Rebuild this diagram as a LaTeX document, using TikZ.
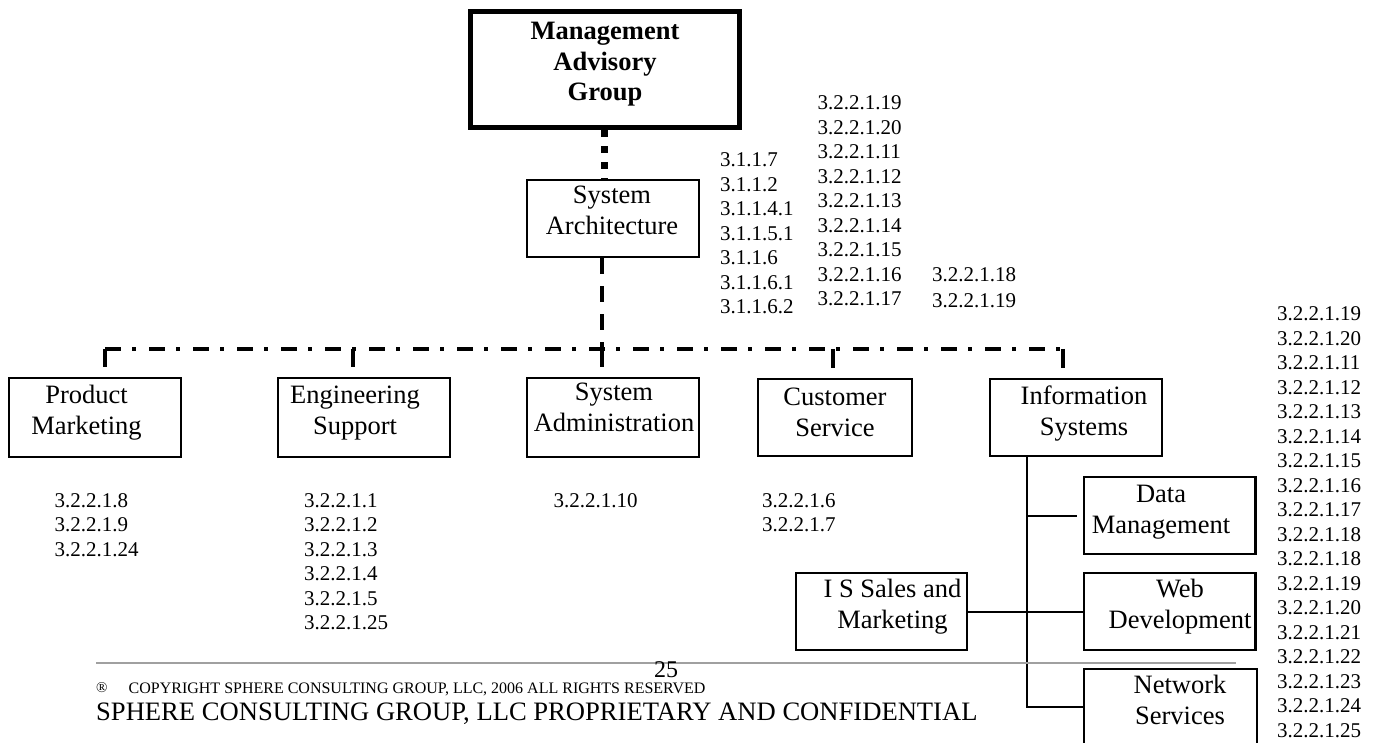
\documentclass[tikz,border=0pt]{standalone}
\usepackage{fontspec}
\setmainfont{Liberation Serif}
\definecolor{rulegray}{RGB}{160,160,160}
\newcommand{\stk}[2]{\begin{tabular}[t]{@{}#1@{}}#2\end{tabular}}
\begin{document}
\begin{tikzpicture}[x=1pt,y=-1pt,
  box/.style={draw, line width=2.2pt, inner sep=0pt, rectangle},
  lbl/.style={font=\fontsize{26.5}{31}\selectfont, inner sep=0pt, anchor=base},
  num/.style={font=\fontsize{21}{24.5}\selectfont, inner sep=0pt, anchor=base west},
  link/.style={line width=2pt},
  tick/.style={line width=4pt, shorten >=10pt},
  dashv/.style={line width=4pt, dash pattern=on 16pt off 12pt},
  dashdotbus/.style={line width=4pt, dash pattern=on 16pt off 11pt on 4pt off 13pt},
  dotv/.style={line width=7pt, dash pattern=on 7pt off 9pt},
]
\useasboundingbox (0,0) rectangle (1379,743);
\clip (0,0) rectangle (1379,743);

% boxes
\node[box, line width=5pt, minimum width=269pt, minimum height=116pt] (mag) at (604.5,70) {};
\node[box, minimum width=171.5pt, minimum height=77pt] (sa) at (613,218.5) {};
\node[box, minimum width=172pt, minimum height=79pt] (pm) at (95,417.5) {};
\node[box, minimum width=172pt, minimum height=79pt] (es) at (364,417.5) {};
\node[box, minimum width=172pt, minimum height=79pt] (sadm) at (613,417.5) {};
\node[box, minimum width=154pt, minimum height=77pt] (cs) at (835,417.5) {};
\node[box, minimum width=172pt, minimum height=77pt] (is) at (1076,417.5) {};
\node[box, minimum width=171.5pt, minimum height=77pt] (dm) at (1169.75,515.5) {};
\node[box, minimum width=171.5pt, minimum height=77pt] (wd) at (1169.75,611.5) {};
\node[box, minimum width=173pt, minimum height=80pt] (ns) at (1170.5,709) {};
\node[box, minimum width=171pt, minimum height=77pt] (iss) at (881.5,611.5) {};

% box texts
\node[lbl, font=\bfseries\fontsize{26.5}{30.5}\selectfont] (magt) at (605,40) {\stk{c}{Management\\Advisory\\Group}};
\node[lbl] (sat) at (612,204) {\stk{c}{System\\Architecture}};
\node[lbl] (pmt) at (86.5,403) {\stk{c}{Product\\Marketing}};
\node[lbl] (est) at (355,403) {\stk{c}{Engineering\\Support}};
\node[lbl] (sadmt) at (614,400) {\stk{c}{System\\Administration}};
\node[lbl] (cst) at (835,405) {\stk{c}{Customer\\Service}};
\node[lbl] (ist) at (1084,404) {\stk{c}{Information\\Systems}};
\node[lbl] (dmt) at (1161,502) {\stk{c}{Data\\Management}};
\node[lbl] (wdt) at (1180,597) {\stk{c}{Web\\Development}};
\node[lbl] (nst) at (1180,693) {\stk{c}{Network\\Services}};
\node[lbl] (isst) at (892.5,597) {\stk{c}{I S Sales and\\Marketing}};

% number columns
\node[num] (c1) at (720,167) {\stk{l}{3.1.1.7\\3.1.1.2\\3.1.1.4.1\\3.1.1.5.1\\3.1.1.6\\3.1.1.6.1\\3.1.1.6.2}};
\node[num] (c2) at (817.5,110) {\stk{l}{3.2.2.1.19\\3.2.2.1.20\\3.2.2.1.11\\3.2.2.1.12\\3.2.2.1.13\\3.2.2.1.14\\3.2.2.1.15\\3.2.2.1.16\\3.2.2.1.17}};
\node[num, font=\fontsize{21}{25.5}\selectfont] (c3) at (932,282) {\stk{l}{3.2.2.1.18\\3.2.2.1.19}};
\node[num] (c4) at (1277,321) {\stk{l}{3.2.2.1.19\\3.2.2.1.20\\3.2.2.1.11\\3.2.2.1.12\\3.2.2.1.13\\3.2.2.1.14\\3.2.2.1.15\\3.2.2.1.16\\3.2.2.1.17\\3.2.2.1.18\\3.2.2.1.18\\3.2.2.1.19\\3.2.2.1.20\\3.2.2.1.21\\3.2.2.1.22\\3.2.2.1.23\\3.2.2.1.24\\3.2.2.1.25}};
\node[num] (npm) at (54.5,507) {\stk{l}{3.2.2.1.8\\3.2.2.1.9\\3.2.2.1.24}};
\node[num] (nes) at (304,507) {\stk{l}{3.2.2.1.1\\3.2.2.1.2\\3.2.2.1.3\\3.2.2.1.4\\3.2.2.1.5\\3.2.2.1.25}};
\node[num] (nsadm) at (553.5,507) {3.2.2.1.10};
\node[num] (ncs) at (762,507) {\stk{l}{3.2.2.1.6\\3.2.2.1.7}};

% connectors
\draw[dotv] (mag.south) -- (mag.south |- sa.north);
\coordinate (bPM) at (105,349);
\coordinate (bES) at (353,349);
\coordinate (bSA) at (602,349);
\coordinate (bCS) at (833,349);
\coordinate (bIS) at (1063,349);
\draw[dashv] (sa.south -| bSA) -- (bSA);
\draw[dashdotbus] (bPM) -- (bIS);
\draw[tick] (bPM) -- (bPM |- pm.north);
\draw[tick] (bES) -- (bES |- es.north);
\draw[tick] (bSA) -- (bSA |- sadm.north);
\draw[tick] (bCS) -- (bCS |- cs.north);
\draw[tick] (bIS) -- (bIS |- is.north);

\coordinate (isx) at (1027,0);
\coordinate (isb) at (1027,707);
\draw[link] (is.south -| isx) -- (isb) -- (isb -| ns.west);
\draw[link, shorten >=6pt] (isx |- dm.west) -- (dm.west);
\draw[link] (iss.east) -- (wd.west);

% footer
\draw[line width=2.8pt, rulegray] (96,663) -- (1236,663);
\node[anchor=base, inner sep=0pt, font=\fontsize{24}{24}\selectfont] (pg) at (666,677.5) {25};
\node[anchor=base west, inner sep=0pt, font=\fontsize{15}{15}\selectfont] (reg) at (96,692) {®};
\node[anchor=base west, inner sep=0pt, font=\fontsize{16}{16}\selectfont] (copy) at (128.5,693) {COPYRIGHT SPHERE CONSULTING GROUP, LLC, 2006 ALL RIGHTS RESERVED};
\node[anchor=base west, inner sep=0pt, font=\fontsize{26.6}{27}\selectfont] (prop) at (96,720) {SPHERE CONSULTING GROUP, LLC PROPRIETARY AND CONFIDENTIAL};
\end{tikzpicture}
\end{document}
